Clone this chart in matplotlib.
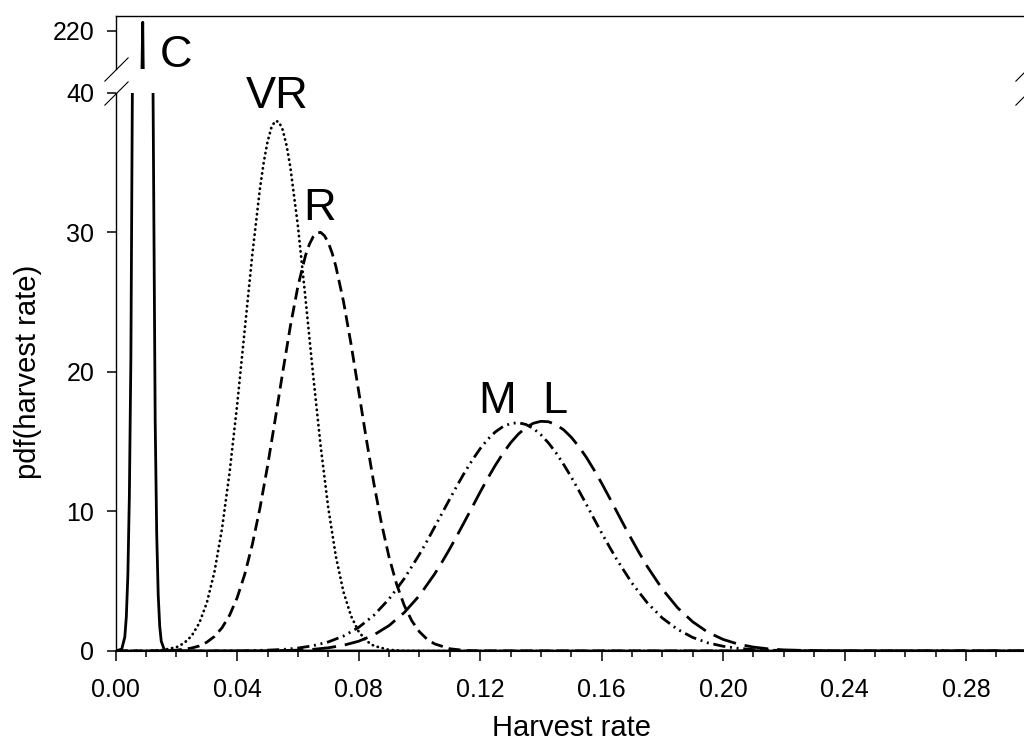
import matplotlib
matplotlib.use("Agg")
import matplotlib.pyplot as plt
from matplotlib.ticker import MultipleLocator, FixedLocator

plt.rcParams['font.family'] = ['Liberation Sans', 'DejaVu Sans']

# ---- data ----
c_x = [0.000, 0.002, 0.003, 0.0035, 0.004, 0.0045, 0.005, 0.006, 0.007, 0.008, 0.0085,
       0.0089, 0.0095, 0.010, 0.011, 0.012, 0.013, 0.0135, 0.014, 0.0145, 0.015, 0.016,
       0.018, 0.300]
c_y = [0.0, 0.14, 1.0, 2.45, 5.4, 11.1, 21.0, 60.2, 126.4, 194.7, 215.2,
       220.6, 208.7, 183.1, 111.6, 50.0, 16.5, 8.4, 4.0, 1.75, 0.7, 0.09,
       0.0, 0.0]

vr_x = [0.000, 0.010, 0.015, 0.020, 0.0225, 0.025, 0.0275, 0.030, 0.0325, 0.035, 0.0375,
        0.040, 0.0425, 0.045, 0.0475, 0.04875, 0.050, 0.05125, 0.0525, 0.05375, 0.055,
        0.05625, 0.0575, 0.060, 0.0625,
        0.065, 0.0675, 0.070, 0.0725, 0.075, 0.0775, 0.080, 0.0825, 0.085, 0.090,
        0.095, 0.100, 0.300]
vr_y = [0.0, 0.01, 0.05, 0.27, 0.56, 1.08, 1.99, 3.45, 5.65, 8.75, 12.79,
        17.65, 23.05, 28.43, 33.13, 35.01, 36.48, 37.48, 37.96, 37.90, 37.32,
        36.22, 34.67, 30.43, 25.24,
        19.78, 14.64, 10.24, 6.77, 4.23, 2.50, 1.39, 0.73, 0.37, 0.08,
        0.01, 0.0, 0.0]

r_x = [0.000, 0.015, 0.020, 0.025, 0.0275, 0.030, 0.0325, 0.035, 0.0375, 0.040, 0.0425,
       0.045, 0.0475, 0.050, 0.0525, 0.055, 0.0575, 0.060, 0.0625, 0.06375, 0.065,
       0.06625, 0.0675, 0.06875, 0.070, 0.07125, 0.0725, 0.075, 0.0775, 0.080, 0.0825,
       0.085, 0.0875, 0.090, 0.0925, 0.095, 0.0975, 0.100, 0.1025, 0.105, 0.110,
       0.115, 0.120, 0.300]
r_y = [0.0, 0.01, 0.06, 0.21, 0.36, 0.63, 1.04, 1.66, 2.56, 3.82, 5.50,
       7.64, 10.24, 13.25, 16.56, 19.97, 23.25, 26.12, 28.33, 29.12, 29.66,
       29.95, 29.98, 29.74, 29.25, 28.51, 27.54, 25.04, 21.97, 18.61, 15.21,
       12.01, 9.15, 6.73, 4.78, 3.27, 2.16, 1.38, 0.85, 0.51, 0.16,
       0.04, 0.01, 0.0]

m_x = [0.000, 0.030, 0.040, 0.050, 0.055, 0.060, 0.065, 0.070, 0.075, 0.080, 0.085,
       0.090, 0.095, 0.100, 0.1025, 0.105, 0.1075, 0.110, 0.1125, 0.115, 0.1175,
       0.120, 0.1225, 0.125, 0.1275, 0.130, 0.1325, 0.135, 0.1375, 0.140, 0.1425,
       0.145, 0.1475, 0.150, 0.1525, 0.155, 0.1575, 0.160, 0.1625, 0.165, 0.170,
       0.175, 0.180, 0.185, 0.190, 0.195, 0.200, 0.205, 0.210, 0.220, 0.230,
       0.240, 0.300]
m_y = [0.0, 0.0, 0.01, 0.06, 0.11, 0.21, 0.38, 0.65, 1.07, 1.69, 2.56,
       3.72, 5.18, 6.92, 7.87, 8.87, 9.88, 10.89, 11.88, 12.83, 13.70,
       14.49, 15.16, 15.69, 16.07, 16.29, 16.35, 16.23, 15.94, 15.49, 14.90,
       14.19, 13.36, 12.46, 11.49, 10.49, 9.47, 8.46, 7.49, 6.55, 4.86,
       3.46, 2.36, 1.55, 0.97, 0.58, 0.34, 0.19, 0.10, 0.03, 0.01,
       0.0, 0.0]

l_x = [0.000, 0.040, 0.050, 0.060, 0.065, 0.070, 0.075, 0.080, 0.085, 0.090, 0.095,
       0.100, 0.105, 0.1075, 0.110, 0.1125, 0.115, 0.1175, 0.120, 0.1225, 0.125,
       0.1275, 0.130, 0.1325, 0.135, 0.1375, 0.140, 0.1425, 0.145, 0.1475, 0.150,
       0.1525, 0.155, 0.1575, 0.160, 0.1625, 0.165, 0.1675, 0.170, 0.1725, 0.175,
       0.180, 0.185, 0.190, 0.195, 0.200, 0.205, 0.210, 0.215, 0.220, 0.230,
       0.240, 0.250, 0.300]
l_y = [0.0, 0.0, 0.01, 0.06, 0.12, 0.23, 0.41, 0.70, 1.15, 1.82, 2.75,
       3.97, 5.51, 6.39, 7.32, 8.31, 9.32, 10.35, 11.38, 12.37, 13.30,
       14.15, 14.90, 15.52, 15.99, 16.31, 16.45, 16.42, 16.21, 15.84, 15.31,
       14.64, 13.86, 12.97, 12.02, 11.01, 9.98, 8.95, 7.95, 6.98, 6.06,
       4.43, 3.10, 2.09, 1.34, 0.83, 0.49, 0.28, 0.15, 0.08, 0.02,
       0.0, 0.0, 0.0]

curve_labels = ["C", "VR", "R", "M", "L"]
label_x = [0.0200, 0.0533, 0.0671, 0.1257, 0.1447]
label_y = [217.36, 38.9, 30.87, 17.05, 17.07]

x_major_ticks = [0.00, 0.04, 0.08, 0.12, 0.16, 0.20, 0.24, 0.28]
x_tick_labels = ["0.00", "0.04", "0.08", "0.12", "0.16", "0.20", "0.24", "0.28"]
low_y_ticks = [0, 10, 20, 30, 40]
up_y_ticks = [220]

# ---- figure ----
W, H = 1024, 744
fig = plt.figure(figsize=(W / 100, H / 100), dpi=100)

left_px, right_px = 115.7, 1026.8
low_top_px, low_bot_px = 92.5, 651.0
up_top_px, up_bot_px = 15.7, 68.7

axl = fig.add_axes([left_px / W, 1 - low_bot_px / H, (right_px - left_px) / W,
                    (low_bot_px - low_top_px) / H])
axu = fig.add_axes([left_px / W, 1 - up_bot_px / H, (right_px - left_px) / W,
                    (up_bot_px - up_top_px) / H])

lw = 2.0
styles = [
    dict(linestyle='-', lw=lw),
    dict(linestyle=(0, (0.1, 1.75)), lw=2.0, dash_capstyle='round'),
    dict(linestyle=(0, (4.3, 2.2)), lw=lw),
    dict(linestyle=(0, (4.4, 1.7, 0.7, 1.7, 0.7, 1.7)), lw=lw),
    dict(linestyle=(0, (8.6, 3.2)), lw=lw),
]
series = [(c_x, c_y), (vr_x, vr_y), (r_x, r_y), (m_x, m_y), (l_x, l_y)]

for ax in (axl, axu):
    for (xs, ys), st in zip(series, styles):
        ax.plot(xs, ys, color='black', solid_joinstyle='round', **st)
    ax.set_xlim(0, 0.30)

axl.set_ylim(0, 40)
axu.set_ylim(217.27, 221.07)

# spines
axl.spines['top'].set_visible(False)
axu.spines['bottom'].set_visible(False)
for ax in (axl, axu):
    for s in ax.spines.values():
        s.set_linewidth(1.0)
        s.set_color('black')
axl.spines['bottom'].set_linewidth(1.5)

# ticks
axl.xaxis.set_major_locator(FixedLocator(x_major_ticks))
axl.set_xticklabels(x_tick_labels)
axl.xaxis.set_minor_locator(MultipleLocator(0.01))
axl.yaxis.set_major_locator(FixedLocator(low_y_ticks))
axl.tick_params(axis='x', which='major', direction='out', length=7.2, width=1.1,
                labelsize=18, pad=12)
axl.tick_params(axis='x', which='minor', direction='out', length=4.3, width=1.1)
axl.tick_params(axis='y', which='major', direction='out', length=6.5, width=1.1,
                labelsize=18, pad=9, right=False)

axu.xaxis.set_visible(False)
axu.yaxis.set_major_locator(FixedLocator(up_y_ticks))
axu.tick_params(axis='y', which='major', direction='out', length=6.5, width=1.1,
                labelsize=18, pad=9)

axl.set_xlabel("Harvest rate", fontsize=21, labelpad=9)
axl.set_ylabel("pdf(harvest rate)", fontsize=21)
axl.yaxis.set_label_coords(-0.081, 0.5)

# curve labels
for i, (t, x, y) in enumerate(zip(curve_labels, label_x, label_y)):
    target = axu if i == 0 else axl
    target.text(x, y, t, fontsize=32.5, ha='center', va='baseline', color='black')

# axis-break marks
d = 17.3
mk = [(-1, -1), (1, 1)]
axu.plot([0, 1], [0, 0], transform=axu.transAxes, marker=mk, markersize=d,
         linestyle='none', color='black', mec='black', mew=0.8, clip_on=False)
axl.plot([0, 1], [1, 1], transform=axl.transAxes, marker=mk, markersize=d,
         linestyle='none', color='black', mec='black', mew=0.8, clip_on=False)

fig.savefig("out.png", dpi=100)
